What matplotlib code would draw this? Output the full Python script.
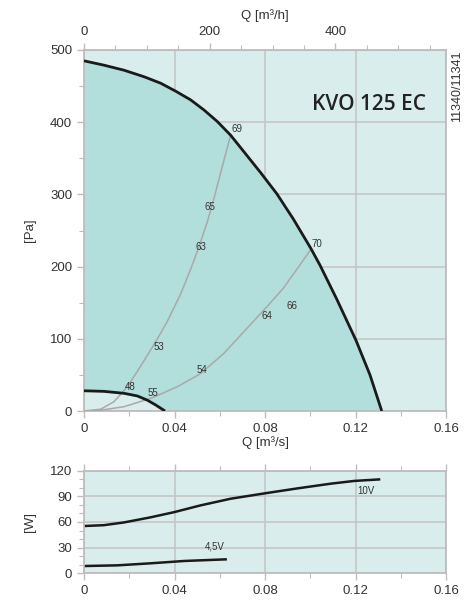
import matplotlib.pyplot as plt
import numpy as np
from matplotlib.ticker import MultipleLocator, FixedLocator

plt.rcParams['font.family'] = ['Liberation Sans', 'DejaVu Sans']

# fan curve (max) and min curve, Q [m3/s] / P [Pa]
q_max = [0, 0.0088, 0.0177, 0.0265, 0.0339, 0.0405, 0.0471, 0.053, 0.0589, 0.0648,
         0.0707, 0.0781, 0.0852, 0.0925, 0.1003, 0.1043, 0.1117, 0.1202, 0.1264, 0.1316]
p_max = [485, 479, 472, 463, 454, 443, 431, 417, 401, 382,
         359, 330, 301, 266, 225, 202, 155, 98, 50, 0]
q_min = [0, 0.0088, 0.0177, 0.0236, 0.028, 0.0317, 0.0358]
p_min = [28, 27.2, 24.5, 20.8, 15, 8.3, 0]

# system curves
q_sys1 = [0, 0.0074, 0.0133, 0.0192, 0.0258, 0.0317, 0.0368, 0.0427, 0.0471,
          0.0501, 0.0545, 0.0575, 0.0604, 0.0648]
p_sys1 = [0, 2.5, 13, 33.7, 66, 96, 124, 162, 196, 221, 262, 295, 330, 382]
q_sys2 = [0, 0.0074, 0.0177, 0.0295, 0.0413, 0.0516, 0.0619, 0.0707, 0.0807,
          0.0881, 0.094, 0.1003]
p_sys2 = [0, 1, 6, 17.5, 33.7, 52, 80, 110, 144, 170, 196, 224]

# sound level labels
lbl_txt = ['48', '53', '63', '65', '69', '55', '54', '64', '66', '70']
lbl_q = [0.0202, 0.0331, 0.0519, 0.0557, 0.0678, 0.0305, 0.0523, 0.0808, 0.0918, 0.1028]
lbl_p = [33, 89, 227, 282, 390, 24.5, 57, 131, 146, 231]

# power curves, Q [m3/s] / [W]
q_10v = [0, 0.0088, 0.0177, 0.0295, 0.0398, 0.0516, 0.0648, 0.0796, 0.0943,
         0.109, 0.1193, 0.1304]
w_10v = [55.3, 56.3, 59.5, 65.5, 71.5, 79.5, 87.2, 93.4, 99.3, 104.8, 108, 109.8]
q_45v = [0, 0.0147, 0.0295, 0.0442, 0.0626]
w_45v = [8.5, 9.3, 11.7, 14.4, 16.3]

bg_light = '#d9eeec'
bg_dark = '#b2dedb'
grid_c = '#c3c3c3'
spine_c = '#bdbdbd'
txt_c = '#333333'

fig = plt.figure(figsize=(4.66, 6.01), dpi=100)
ax = fig.add_axes([84/466, 190/601, 362/466, 361/601])
ax2 = fig.add_axes([84/466, 27.7/601, 362/466, 102.6/601])


def style(a):
    a.set_facecolor(bg_light)
    for s in a.spines.values():
        s.set_color(spine_c)
        s.set_linewidth(1.3)
    a.tick_params(which='both', colors=spine_c, labelcolor=txt_c, labelsize=9.5)
    a.tick_params(which='major', length=5, width=1)
    a.tick_params(which='minor', length=3.5, width=0.8)
    a.set_axisbelow(True)


# main chart
style(ax)
ax.set_xlim(0, 0.16)
ax.set_ylim(0, 500)
ax.xaxis.set_major_locator(MultipleLocator(0.04))
ax.xaxis.set_minor_locator(MultipleLocator(0.02))
ax.yaxis.set_major_locator(MultipleLocator(100))
ax.yaxis.set_minor_locator(MultipleLocator(50))
ax.xaxis.set_major_formatter(lambda v, p: '0' if v == 0 else f'{v:g}')

poly_q = np.concatenate([q_max, q_min[::-1]])
poly_p = np.concatenate([p_max, p_min[::-1]])
ax.fill(poly_q, poly_p, color=bg_dark, lw=0, zorder=1)
ax.grid(True, which='major', color=grid_c, lw=1.1, zorder=2)

ax.plot(q_sys1, p_sys1, color='#a9a9a9', lw=1.1, zorder=3)
ax.plot(q_sys2, p_sys2, color='#a9a9a9', lw=1.1, zorder=3)
ax.plot(q_max, p_max, color='#1a1a1a', lw=2.0, zorder=4, solid_capstyle='butt')
ax.plot(q_min, p_min, color='#1a1a1a', lw=2.0, zorder=4, solid_capstyle='butt')
for t, q, p in zip(lbl_txt, lbl_q, lbl_p):
    ax.text(q, p, t, fontsize=7, color=txt_c, ha='center', va='center', zorder=5)

ax.set_xlabel('Q [m³/s]', fontsize=9.5, color=txt_c, labelpad=1)
ax.set_ylabel('[Pa]', fontsize=9.5, color=txt_c, labelpad=10)
ax.text(0.1258, 424, 'KVO 125 EC', fontsize=15, fontweight='semibold',
        family=['Open Sans', 'DejaVu Sans'], color='#222222', ha='center', va='center', zorder=5)

top = ax.secondary_xaxis('top', functions=(lambda q: q*3600, lambda h: h/3600))
top.xaxis.set_major_locator(FixedLocator([0, 200, 400]))
top.xaxis.set_minor_locator(FixedLocator([50, 100, 150, 250, 300, 350, 450, 500, 550]))
top.tick_params(which='both', colors=spine_c, labelcolor=txt_c, labelsize=9.5)
top.tick_params(which='major', length=5, width=1)
top.tick_params(which='minor', length=3.5, width=0.8)
top.spines['top'].set_color(spine_c)
top.set_xlabel('Q [m³/h]', fontsize=9.5, color=txt_c, labelpad=5)

fig.text(457/466, 1 - 86/601, '11340/11341', rotation=90, fontsize=9,
         color=txt_c, ha='center', va='center')

# power chart
style(ax2)
ax2.grid(True, which='major', color=grid_c, lw=1.1)
ax2.set_xlim(0, 0.16)
ax2.set_ylim(0, 120)
ax2.xaxis.set_major_locator(MultipleLocator(0.04))
ax2.xaxis.set_minor_locator(MultipleLocator(0.02))
ax2.yaxis.set_major_locator(MultipleLocator(30))
ax2.yaxis.set_minor_locator(MultipleLocator(10))
ax2.xaxis.set_major_formatter(lambda v, p: '0' if v == 0 else f'{v:g}')
ax2.tick_params(axis='x', which='both', top=True)
ax2.plot(q_10v, w_10v, color='#1a1a1a', lw=1.8)
ax2.plot(q_45v, w_45v, color='#1a1a1a', lw=1.8)
ax2.text(0.1245, 96.5, '10V', fontsize=7, color=txt_c, ha='center', va='center')
ax2.text(0.0578, 31, '4,5V', fontsize=7, color=txt_c, ha='center', va='center')
ax2.set_ylabel('[W]', fontsize=9.5, color=txt_c, labelpad=10)

fig.savefig('out.png', dpi=100)
